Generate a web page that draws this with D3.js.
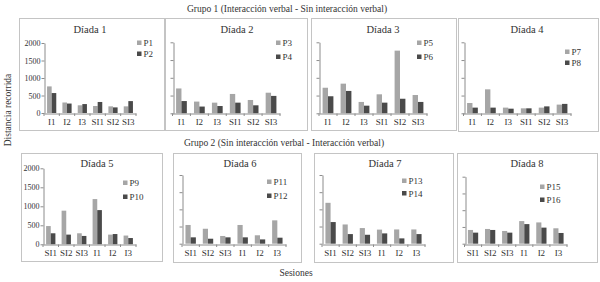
<!DOCTYPE html>
<html><head><meta charset="utf-8">
<script src="https://cdn.jsdelivr.net/npm/d3@7"></script>
<style>
body{margin:0;background:#fff}
svg{display:block}
svg text{font-family:"Liberation Serif","Times New Roman",serif !important;font-weight:400 !important}
</style></head>
<body><svg id="c" width="600" height="282"></svg>
<script>
// ---- data ----
const sessionsG1 = ["I1","I2","I3","SI1","SI2","SI3"];
const sessionsG2 = ["SI1","SI2","SI3","I1","I2","I3"];
const yTicks = [0,500,1000,1500,2000];
const dyadNames = ["Díada 1","Díada 2","Díada 3","Díada 4","Díada 5","Díada 6","Díada 7","Díada 8"];
const participants = [["P1","P2"],["P3","P4"],["P5","P6"],["P7","P8"],["P9","P10"],["P11","P12"],["P13","P14"],["P15","P16"]];
const p1  = [760, 300, 220, 200, 190, 190];
const p2  = [570, 270, 255, 315, 160, 340];
const p3  = [700, 330, 300, 545, 375, 580];
const p4  = [345, 190, 205, 300, 225, 490];
const p5  = [720, 835, 320, 535, 1765, 515];
const p6  = [480, 630, 215, 300, 410, 320];
const p7  = [290, 675, 160, 140, 160, 245];
const p8  = [160, 160, 130, 140, 195, 265];
const p9  = [480, 885, 290, 1190, 255, 230];
const p10 = [290, 255, 220, 900, 270, 165];
const p11 = [545, 435, 225, 545, 245, 680];
const p12 = [185, 145, 185, 185, 125, 175];
const p13 = [1190, 560, 455, 410, 415, 415];
const p14 = [630, 280, 260, 300, 155, 280];
const p15 = [410, 440, 380, 675, 635, 460];
const p16 = [330, 410, 330, 585, 480, 320];
const seriesA = [p1,p3,p5,p7,p9,p11,p13,p15];
const seriesB = [p2,p4,p6,p8,p10,p12,p14,p16];
const groupTitles = ["Grupo 1 (Interacción verbal - Sin interacción verbal)","Grupo 2 (Sin interacción verbal - Interacción verbal)"];
const yLabel = "Distancia recorrida";
const xLabel = "Sesiones";

// ---- layout ----
const layout = [
 {box:[19,18,164,130], x:[44,136], y:[113,43], labels:true, title:[90,29], leg:[137,43,11]},
 {box:[165,18,307,130], x:[172.5,280], y:[113.3,42.3], labels:false, title:[237,29], leg:[276,43,14]},
 {box:[311,18,456,130], x:[319,427], y:[113.3,42.3], labels:false, title:[383,29], leg:[417,43,14]},
 {box:[458,18,598,131], x:[463.5,571], y:[113.3,42.3], labels:false, title:[527,29], leg:[565,52,11]},
 {box:[21,153,162,261], x:[43,136], y:[244.3,168.3], labels:true, title:[97,163], leg:[123,183,14]},
 {box:[173,153,301,262], x:[182,286], y:[243.7,175], labels:false, title:[240,163], leg:[267,182,14]},
 {box:[314,153,453,262], x:[322,425], y:[243.7,175], labels:false, title:[385,163], leg:[402,181,12.5]},
 {box:[457,153,597,262], x:[464.5,567], y:[243.7,176.7], labels:false, title:[527,163], leg:[540,187,13]}
];
const FONT = '"Liberation Serif","Times New Roman",serif';
const colA = "#a6a6a6", colB = "#4a4a4a", axisCol = "#8c8c8c", boxCol = "#c4c4c4", txt = "#333";

const svg = d3.select("#c");
svg.append("rect").attr("width",600).attr("height",282).attr("fill","#fff");

layout.forEach((L,i)=>{
  const cats = i<4 ? sessionsG1 : sessionsG2;
  const g = svg.append("g").attr("font-family",FONT);
  g.append("rect").attr("x",L.box[0]+0.5).attr("y",L.box[1]+0.5)
    .attr("width",L.box[2]-L.box[0]).attr("height",L.box[3]-L.box[1])
    .attr("fill","#fff").attr("stroke",boxCol).attr("stroke-width",1);
  const x = d3.scaleBand().domain(cats).range(L.x).paddingInner(0.4).paddingOuter(0.2);
  const xOuter = d3.scaleBand().domain(cats).range(L.x);
  const y = d3.scaleLinear().domain([0,2000]).range(L.y);
  const sub = d3.scaleBand().domain([0,1]).range([0,x.bandwidth()]);
  [seriesA[i],seriesB[i]].forEach((vals,k)=>{
    g.selectAll(null).data(vals).enter().append("rect")
      .attr("x",(d,j)=>x(cats[j])+sub(k))
      .attr("y",d=>y(d))
      .attr("width",sub.bandwidth())
      .attr("height",d=>y(0)-y(d))
      .attr("fill",k===0?colA:colB);
  });
  const ya = d3.axisLeft(y).tickValues(yTicks).tickSize(3).tickSizeOuter(0)
     .tickFormat(L.labels?d3.format("d"):"");
  const yg = g.append("g").attr("transform",`translate(${Math.round(L.x[0])+0.5},0)`).call(ya)
     .attr("font-family",FONT);
  yg.selectAll("path,line").attr("stroke",axisCol);
  yg.selectAll("text").attr("fill",txt).style("font-size","8px").attr("x",-4);
  const xa = d3.axisBottom(xOuter).tickSize(0).tickSizeOuter(0);
  const xg = g.append("g").attr("transform",`translate(0,${Math.round(L.y[0])+0.5})`).call(xa)
     .attr("font-family",FONT);
  xg.select("path").attr("stroke",axisCol);
  xg.selectAll("text").attr("fill",txt).style("font-size","9px").attr("dy","0.95em");
  g.selectAll(null).data(cats.concat(["end"])).enter().append("line")
    .attr("x1",(d,j)=>j<cats.length?xOuter(d):L.x[1]).attr("x2",(d,j)=>j<cats.length?xOuter(d):L.x[1])
    .attr("y1",Math.round(L.y[0])+0.5).attr("y2",Math.round(L.y[0])+3)
    .attr("stroke",axisCol);
  g.append("text").attr("x",L.title[0]).attr("y",L.title[1]).attr("text-anchor","middle")
    .attr("dominant-baseline","central").attr("fill",txt).style("font-size","10.5px").text(dyadNames[i]);
  participants[i].forEach((p,k)=>{
    const ly = L.leg[1] + k*L.leg[2];
    g.append("rect").attr("x",L.leg[0]).attr("y",ly-2.5).attr("width",4.5).attr("height",4.5)
      .attr("fill",k===0?colA:colB);
    g.append("text").attr("x",L.leg[0]+6.5).attr("y",ly).attr("dominant-baseline","central")
      .attr("fill",txt).style("font-size","9px").text(p);
  });
});

const tg = svg.append("g").attr("font-family",FONT).attr("fill",txt);
tg.append("text").attr("x",287).attr("y",9).attr("text-anchor","middle").attr("dominant-baseline","central")
  .style("font-size","9.5px").text(groupTitles[0]);
tg.append("text").attr("x",284).attr("y",143).attr("text-anchor","middle").attr("dominant-baseline","central")
  .style("font-size","9.5px").text(groupTitles[1]);
tg.append("text").attr("transform","translate(8,110) rotate(-90)").attr("text-anchor","middle")
  .attr("dominant-baseline","central").style("font-size","9.5px").text(yLabel);
tg.append("text").attr("x",296).attr("y",273).attr("text-anchor","middle").attr("dominant-baseline","central")
  .style("font-size","9.5px").text(xLabel);
</script></body></html>
